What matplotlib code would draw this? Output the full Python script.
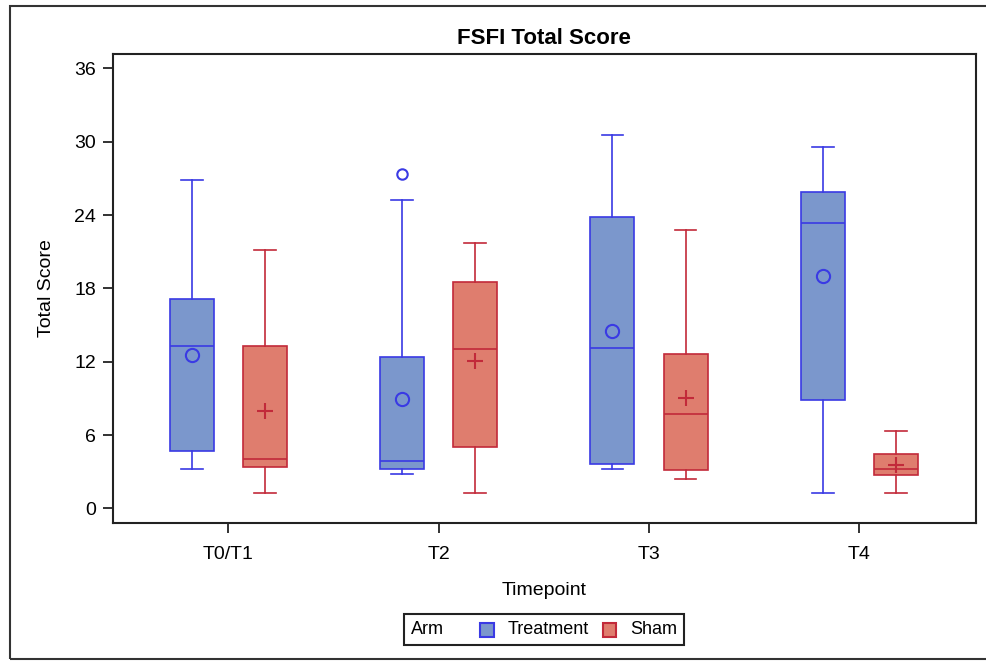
import matplotlib
matplotlib.use("Agg")
import matplotlib.pyplot as plt
from matplotlib.patches import Rectangle
from matplotlib.offsetbox import AnchoredOffsetbox, HPacker, TextArea, DrawingArea

plt.rcParams['font.family'] = ['Liberation Sans', 'DejaVu Sans']

timepoints = ["T0/T1", "T2", "T3", "T4"]
arms = ["Treatment", "Sham"]

# Treatment
trt_whislo = [3.2, 2.8, 3.2, 1.25]
trt_q1 = [4.7, 3.2, 3.65, 8.9]
trt_med = [13.25, 3.85, 13.1, 23.35]
trt_q3 = [17.1, 12.4, 23.85, 25.85]
trt_whishi = [26.9, 25.2, 30.55, 29.55]
trt_mean = [12.55, 8.95, 14.55, 19.05]
trt_outliers = [[], [27.4], [], []]

# Sham
sham_whislo = [1.25, 1.25, 2.4, 1.25]
sham_q1 = [3.4, 5.05, 3.15, 2.75]
sham_med = [4.0, 13.05, 7.7, 3.2]
sham_q3 = [13.3, 18.5, 12.6, 4.45]
sham_whishi = [21.1, 21.7, 22.75, 6.35]
sham_mean = [7.95, 12.05, 9.0, 3.55]
sham_outliers = [[], [], [], []]

yticks = [0, 6, 12, 18, 24, 30, 36]

trt_fill, trt_edge = "#7B97CC", "#3A3AE4"
sham_fill, sham_edge = "#DF7D6E", "#C22A3A"

fig = plt.figure(figsize=(9.86, 6.61), dpi=100)
ax = fig.add_axes([0.1143, 0.2088, 0.8756, 0.7095])

def stats(lo, q1, med, q3, hi, mean, fl):
    return [dict(whislo=lo[i], q1=q1[i], med=med[i], q3=q3[i], whishi=hi[i],
                 mean=mean[i], fliers=fl[i]) for i in range(len(lo))]

offset = 0.174
width = 0.21
lw = 1.2

for (st, shift, fc, ec, mmark, msize) in [
        (stats(trt_whislo, trt_q1, trt_med, trt_q3, trt_whishi, trt_mean, trt_outliers),
         -offset, trt_fill, trt_edge, 'o', 9.5),
        (stats(sham_whislo, sham_q1, sham_med, sham_q3, sham_whishi, sham_mean, sham_outliers),
         offset, sham_fill, sham_edge, '+', 11)]:
    pos = [i + shift for i in range(len(timepoints))]
    ax.bxp(st, positions=pos, widths=width, capwidths=width * 0.49,
           patch_artist=True, showmeans=True, manage_ticks=False,
           boxprops=dict(facecolor=fc, edgecolor=ec, linewidth=lw),
           medianprops=dict(color=ec, linewidth=lw),
           whiskerprops=dict(color=ec, linewidth=lw),
           capprops=dict(color=ec, linewidth=lw),
           meanprops=dict(marker=mmark, markerfacecolor='none', markeredgecolor=ec,
                          markersize=msize, markeredgewidth=1.5),
           flierprops=dict(marker='o', markerfacecolor='none', markeredgecolor=ec,
                           markersize=7.5, markeredgewidth=1.5))

ax.set_xlim(-0.55, 3.555)
ax.set_ylim(-1.2, 37.18)
ax.set_xticks(range(len(timepoints)))
ax.set_xticklabels(timepoints)
ax.set_yticks(yticks)
ax.tick_params(axis='both', labelsize=14, length=7, width=1.3, color='#222222')
ax.tick_params(axis='x', pad=9.5)
ax.tick_params(axis='y', pad=5)
for s in ax.spines.values():
    s.set_linewidth(1.5)
    s.set_color('#222222')

ax.set_title("FSFI Total Score", fontsize=16, fontweight='bold', pad=7.5)
ax.set_xlabel("Timepoint", fontsize=14, labelpad=14)
ax.set_ylabel("Total Score", fontsize=14, labelpad=14)

# legend
def swatch(fc, ec):
    da = DrawingArea(10, 10, 0, 0)
    da.add_artist(Rectangle((0, 0), 10, 10, facecolor=fc, edgecolor=ec, linewidth=1.5))
    return da

tp = dict(fontsize=13)
inner = HPacker(children=[swatch(trt_fill, trt_edge), TextArea(arms[0], textprops=tp),
                          swatch(sham_fill, sham_edge), TextArea(arms[1], textprops=tp)],
                sep=10, align='center', pad=0)
outer = HPacker(children=[TextArea("Arm", textprops=tp), inner], sep=26, align='center', pad=0)
anch = AnchoredOffsetbox(loc='center', child=outer, pad=0.5, borderpad=0, frameon=True,
                         bbox_to_anchor=(0.5517, 0.047), bbox_transform=fig.transFigure)
anch.patch.set_boxstyle("square", pad=0)
anch.patch.set_edgecolor('#222222')
anch.patch.set_linewidth(1.5)
fig.add_artist(anch)

# outer border
fig.add_artist(Rectangle((10 / 986, 2 / 661), 1.0, 653 / 661, transform=fig.transFigure,
                         fill=False, edgecolor='#333333', linewidth=1.5))

fig.savefig("out.png", dpi=100)
